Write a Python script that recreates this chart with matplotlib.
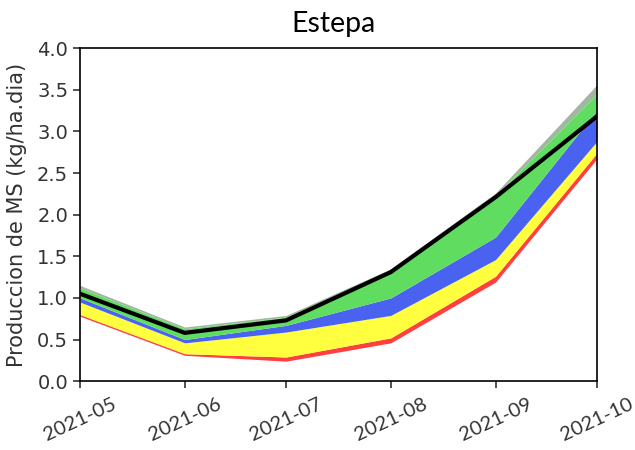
import datetime as dt
import matplotlib
matplotlib.use("Agg")
import matplotlib.pyplot as plt
import matplotlib.dates as mdates

# === data ===
fechas = ["2021-05-01", "2021-06-01", "2021-07-01", "2021-08-01", "2021-09-01", "2021-10-01"]
rojo_inf = [0.78, 0.31, 0.24, 0.46, 1.19, 2.67]
amarillo_inf = [0.80, 0.33, 0.29, 0.52, 1.26, 2.74]
azul_inf = [0.95, 0.46, 0.59, 0.79, 1.46, 2.88]
verde_inf = [1.00, 0.50, 0.67, 1.00, 1.73, 3.25]
verde_sup = [1.12, 0.63, 0.77, 1.33, 2.23, 3.45]
gris_sup = [1.15, 0.65, 0.79, 1.35, 2.26, 3.56]
mediana = [1.05, 0.58, 0.73, 1.31, 2.21, 3.18]

x = [dt.datetime.strptime(f, "%Y-%m-%d") for f in fechas]

fig = plt.figure(figsize=(6.35, 4.5), dpi=100)
ax = fig.add_axes([0.126, 0.153, 0.814, 0.740])

ax.fill_between(x, rojo_inf, amarillo_inf, color="#ff4040", lw=0)
ax.fill_between(x, amarillo_inf, azul_inf, color="#ffff40", lw=0)
ax.fill_between(x, azul_inf, verde_inf, color="#4a62f0", lw=0)
ax.fill_between(x, verde_inf, verde_sup, color="#60dd60", lw=0)
ax.fill_between(x, verde_sup, gris_sup, color="#a0b8a0", lw=0)
ax.plot(x, mediana, color="black", lw=3)

ax.set_xlim(x[0], x[-1])
ax.set_ylim(0, 4)
ax.set_yticks([0, 0.5, 1, 1.5, 2, 2.5, 3, 3.5, 4])
ax.xaxis.set_major_locator(mdates.MonthLocator())
ax.xaxis.set_major_formatter(mdates.DateFormatter("%Y-%m"))

ax.tick_params(axis="y", labelsize=14, length=5, width=1.2, colors="#333333")
ax.tick_params(axis="x", length=5, width=1.2, colors="#333333", pad=5)
for lab in ax.get_xticklabels():
    lab.set_fontfamily("Lato")
    lab.set_fontsize(14.5)
    lab.set_rotation(25)
    lab.set_ha("center")
for s in ax.spines.values():
    s.set_linewidth(1.2)

ax.set_ylabel("Produccion de MS (kg/ha.dia)", fontsize=15, color="#333333")
ax.yaxis.set_label_coords(-0.102, 0.5)

fig.text(0.525, 0.975, "Estepa", ha="center", va="top", fontsize=20.5, family="Lato")

fig.savefig("out.png", dpi=100)
